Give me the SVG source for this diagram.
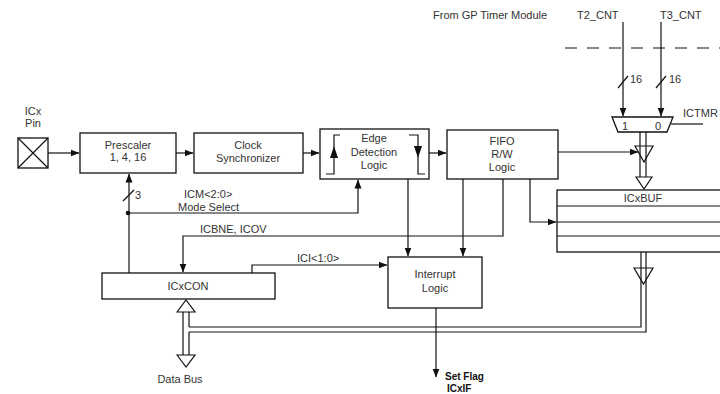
<svg xmlns="http://www.w3.org/2000/svg" width="720" height="394" viewBox="0 0 720 394">
<style>
.b{fill:none;stroke:#111;stroke-width:1.3}
.l{fill:none;stroke:#111;stroke-width:1.2}
.t{font-family:"Liberation Sans",Arial,sans-serif;font-size:11px;fill:#333}
.c{text-anchor:middle}
.h{fill:#111}
.w{fill:#fff;stroke:#111;stroke-width:1.2}
.f{font-size:10px;font-weight:bold;fill:#111}
</style>
<defs>
<marker id="a" markerWidth="9" markerHeight="8" refX="8.5" refY="4" orient="auto" markerUnits="userSpaceOnUse">
<path d="M0,0.5 L9,4 L0,7.5 Z" fill="#111"/>
</marker>
</defs>
<rect width="720" height="394" fill="#fff"/>

<text class="t" x="433" y="19">From GP Timer Module</text>
<text class="t" x="577" y="19">T2_CNT</text>
<text class="t" x="660" y="19">T3_CNT</text>

<g id="pin">
<rect class="b" x="18" y="138" width="30" height="30"/>
<path class="l" d="M18,138 L48,168 M48,138 L18,168"/>
<text class="t c" x="33" y="115">ICx</text>
<text class="t c" x="33" y="127">Pin</text>
</g>

<g id="prescaler">
<rect class="b" x="80" y="133" width="96" height="40"/>
<text class="t c" x="128" y="149">Prescaler</text>
<text class="t c" x="128" y="161">1, 4, 16</text>
</g>

<g id="clocksync">
<rect class="b" x="194" y="133" width="109" height="40"/>
<text class="t c" x="248" y="149">Clock</text>
<text class="t c" x="248" y="162">Synchronizer</text>
</g>

<g id="edge">
<rect class="b" x="320" y="129" width="109" height="50"/>
<text class="t c" x="374" y="142">Edge</text>
<text class="t c" x="374" y="156">Detection</text>
<text class="t c" x="374" y="169">Logic</text>
<path class="l" d="M340,135 H334 V174 H326"/>
<path class="h" d="M334,146 L338,158 L330,158 Z"/>
<path class="l" d="M409,135 H418 V174 H425"/>
<path class="h" d="M418,158 L414,146 L422,146 Z"/>
</g>

<g id="fifo">
<rect class="b" x="447" y="130" width="111" height="49"/>
<text class="t c" x="502" y="145">FIFO</text>
<text class="t c" x="502" y="158">R/W</text>
<text class="t c" x="502" y="171">Logic</text>
</g>

<g id="mux">
<path class="b" d="M612,117 H673 L667,132 H618 Z"/>
<text class="t" x="622" y="130">1</text>
<text class="t" x="655" y="130">0</text>
<text class="t" x="683" y="117">ICTMR</text>
</g>

<g id="icxbuf">
<rect class="b" x="557" y="190" width="170" height="62"/>
<path class="l" d="M557,206 H720 M557,222 H720 M557,236 H720"/>
<text class="t c" x="643" y="202">ICxBUF</text>
</g>

<g id="icxcon">
<rect class="b" x="102" y="273" width="173" height="26"/>
<text class="t c" x="188" y="290">ICxCON</text>
</g>

<g id="interrupt">
<rect class="b" x="388" y="257" width="94" height="51"/>
<text class="t c" x="435" y="278">Interrupt</text>
<text class="t c" x="435" y="292">Logic</text>
</g>

<g id="connectors">
<path class="l" d="M565,48 H720" stroke-dasharray="12 10"/>
<path class="l" d="M623,22 V116" marker-end="url(#a)"/>
<path class="l" d="M661,22 V116" marker-end="url(#a)"/>
<path class="l" d="M618,88 L628,76 M656,88 L666,76"/>
<text class="t" x="630" y="83">16</text>
<text class="t" x="669" y="83">16</text>
<path class="l" d="M671,124 H703"/>
<path class="l" d="M48,153 H79" marker-end="url(#a)"/>
<path class="l" d="M176,153 H193" marker-end="url(#a)"/>
<path class="l" d="M303,153 H319" marker-end="url(#a)"/>
<path class="l" d="M429,153 H446" marker-end="url(#a)"/>
<path class="l" d="M558,152 H638" marker-end="url(#a)"/>
<path class="l" d="M640,132 V178 M646,132 V178"/>
<path class="l" d="M635,146 H653 L644,162 Z"/>
<path class="w" d="M636,177 H652 L644,189 Z"/>
<path class="l" d="M530,179 V222 H556" marker-end="url(#a)"/>
<path class="l" d="M463,179 V256" marker-end="url(#a)"/>
<path class="l" d="M408,179 V256" marker-end="url(#a)"/>
<path class="l" d="M503,179 V236 H183 V272" marker-end="url(#a)"/>
<text class="t" x="200" y="233">ICBNE, ICOV</text>
<path class="l" d="M252,273 V265 H387" marker-end="url(#a)"/>
<text class="t" x="297" y="262">ICI&lt;1:0&gt;</text>
<path class="l" d="M129,273 V174" marker-end="url(#a)"/>
<path class="l" d="M123,201 L134,190"/>
<text class="t" x="135" y="199">3</text>
<circle cx="128" cy="213" r="2.3" fill="#111"/>
<path class="l" d="M129,213 H358 V180" marker-end="url(#a)"/>
<text class="t" x="184" y="198">ICM&lt;2:0&gt;</text>
<text class="t" x="178" y="211">Mode Select</text>
<path class="l" d="M436,308 V377" marker-end="url(#a)"/>
<text class="t f" x="445" y="380">Set Flag</text>
<text class="t f" x="447" y="392">ICxIF</text>
<path class="l" d="M641,252 V327 H189 M646,252 V332 H189"/>
<path class="l" d="M634,268 H653 L643.5,284 Z"/>
<path class="l" d="M183,311 V356 M189,311 V327 M189,332 V356"/>
<path class="w" d="M177,312 L186,300 L195,312 Z"/>
<path class="w" d="M177,355 L186,367 L195,355 Z"/>
<text class="t c" x="180" y="383">Data Bus</text>
</g>
</svg>
